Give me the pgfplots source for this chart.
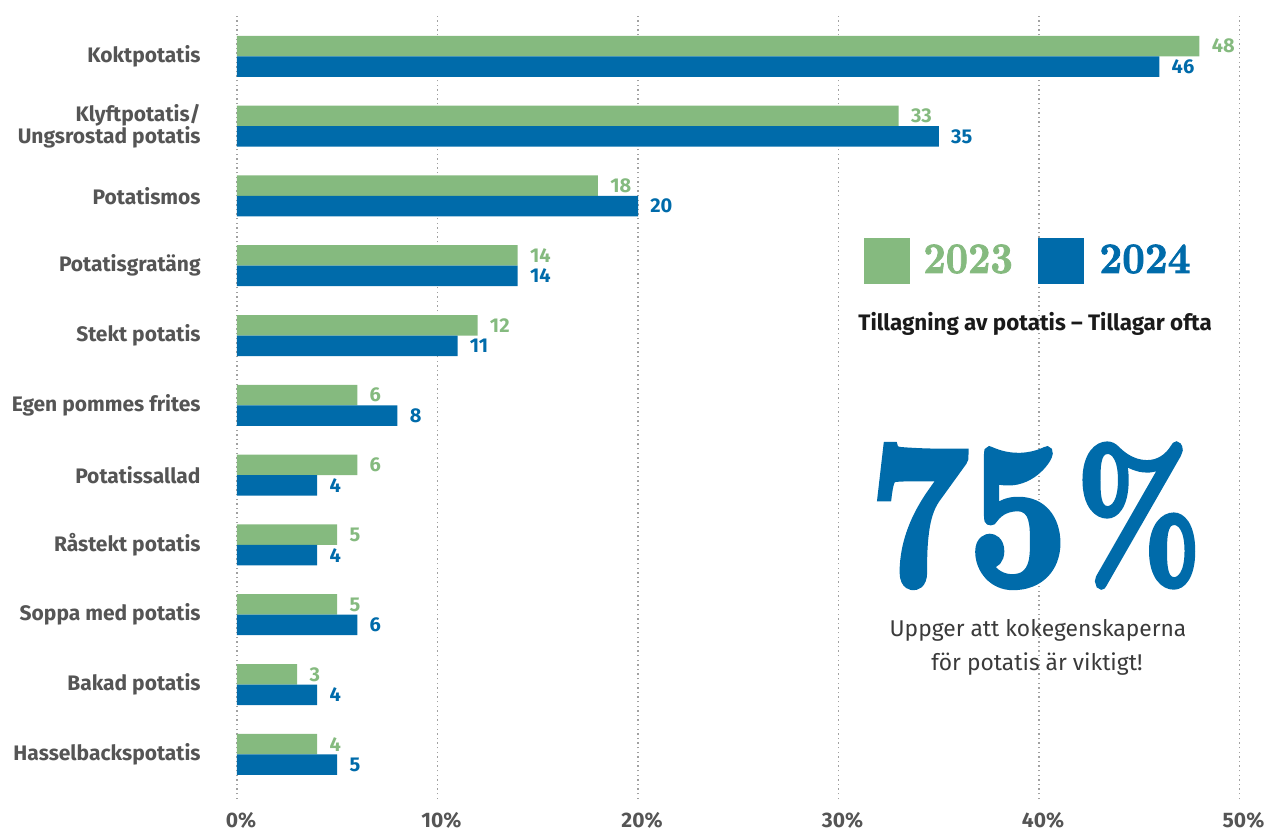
\documentclass[border=0pt]{standalone}
\usepackage{pgfplots}
\pgfplotsset{compat=1.18}
\usepackage{pgfplotstable}
\usepackage{graphicx}
\usepackage{fontspec}
\setmainfont{Fira Sans}
\newfontfamily\didone[FakeBold=2]{Latin Modern Roman}
\newfontfamily\didoneB[FakeBold=3.5]{Latin Modern Roman}
\definecolor{cgreen}{HTML}{85BA7F}
\definecolor{cblue}{HTML}{006BAA}
\definecolor{cgray}{HTML}{555555}
\definecolor{ctext}{HTML}{1A1A1A}
\definecolor{csub}{HTML}{3A3A3A}

\pgfplotstableread{
y v
10 48
9 33
8 18
7 14
6 12
5 6
4 6
3 5
2 5
1 3
0 4
}\tA
\pgfplotstableread{
y v
10 46
9 35
8 20
7 14
6 11
5 8
4 4
3 4
2 6
1 4
0 5
}\tB

\def\P#1#2{({(#1-237)*0.5pt},{(799-#2)*0.5pt})}

\begin{document}
\begin{tikzpicture}
\path[use as bounding box] (-118.5pt,-16pt) rectangle (515pt,399.5pt);
\begin{axis}[
  at={(0,0)}, anchor=south west,
  scale only axis, width=501.25pt, height=392.5pt,
  xmin=0, xmax=50, ymin=-0.640, ymax=10.606,
  axis line style={draw=none},
  major tick length=0pt,
  xtick={0,10,20,30,40,50},
  xticklabel={\pgfmathprintnumber{\tick}\%},
  xmajorgrids,
  grid style={cgray!55, line width=0.7pt, dash pattern=on 0.7pt off 1.6pt},
  ytick={0,...,10},
  yticklabels={Hasselbackspotatis, Bakad potatis, Soppa med potatis, Råstekt potatis, Potatissallad, Egen pommes frites, Stekt potatis, Potatisgratäng, Potatismos, {Klyftpotatis/\\Ungsrostad potatis}, Koktpotatis},
  yticklabel style={font=\bfseries\fontsize{10.5}{11}\selectfont, text=cgray, align=right, inner sep=0pt, xshift=-18pt},
  xticklabel style={font=\bfseries\fontsize{10.5}{11}\selectfont, text=cgray, anchor=base, inner sep=0pt, yshift=-14.2pt, xshift=2pt},
  /pgf/number format/assume math mode=true,
  xbar, bar width=10.25pt,
  nodes near coords,
  nodes near coords style={font=\bfseries\fontsize{10}{11}\selectfont, anchor=west, inner sep=0pt, xshift=6pt},
]
\addplot[fill=cgreen, draw=none, bar shift=5.125pt, nodes near coords style={text=cgreen}] table[x=v,y=y]{\tA};
\addplot[fill=cblue, draw=none, bar shift=-5.125pt, nodes near coords style={text=cblue}] table[x=v,y=y]{\tB};
\end{axis}
% legend
\fill[cgreen] \P{864}{284} rectangle \P{910}{238};
\fill[cblue] \P{1038}{284} rectangle \P{1084}{238};
\node[anchor=west, inner sep=0pt, text=cgreen] at \P{923}{259} {\resizebox{44.7pt}{14.2pt}{\didone\bfseries 2023}};
\node[anchor=west, inner sep=0pt, text=cblue] at \P{1099}{259} {\resizebox{45.5pt}{14.2pt}{\didone\bfseries 2024}};
\node[anchor=base west, inner sep=0pt, text=ctext, font=\bfseries\fontsize{11.2}{13}\selectfont] at \P{858}{330.7} {Tillagning av potatis – Tillagar ofta};
% big number
\node[anchor=south west, inner sep=0pt, text=cblue] at \P{869}{587} {\resizebox*{99pt}{70.5pt}{\didoneB\bfseries 75}};
\node[anchor=south west, inner sep=0pt, text=cblue] at \P{1076}{587} {\resizebox*{62.5pt}{71pt}{\didoneB\bfseries \%}};
\node[anchor=base, inner sep=0pt, text=csub, font=\fontsize{11.4}{13}\selectfont] at \P{1038}{636.7} {Uppger att kokegenskaperna};
\node[anchor=base, inner sep=0pt, text=csub, font=\fontsize{11.4}{13}\selectfont] at \P{1037}{670} {för potatis är viktigt!};
\end{tikzpicture}
\end{document}
